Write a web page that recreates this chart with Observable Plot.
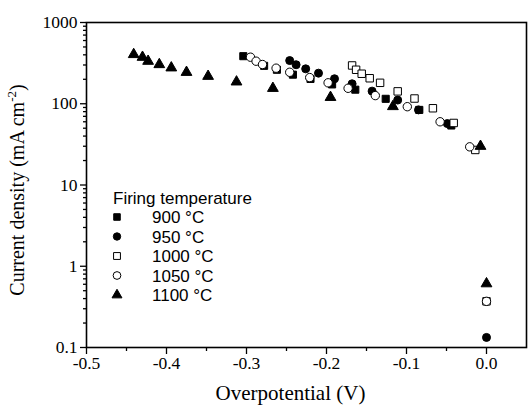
<!DOCTYPE html>
<html><head><meta charset="utf-8">
<script src="https://cdn.jsdelivr.net/npm/d3@7"></script>
<script src="https://cdn.jsdelivr.net/npm/@observablehq/plot@0.6"></script>
<style>body{margin:0;background:#fff}</style>
</head><body><div id="chart"></div>
<script>
// Series labels
const seriesLabels = ["900 °C", "950 °C", "1000 °C", "1050 °C", "1100 °C"];
const legendTitle = "Firing temperature";

// 900 °C (filled squares)
const x900 = [-0.304, -0.278, -0.262, -0.242, -0.220, -0.193, -0.164, -0.126, -0.084, -0.044];
const y900 = [385, 293, 262, 228, 202, 173, 149, 115, 84, 54];
// 950 °C (filled circles)
const x950 = [-0.246, -0.238, -0.226, -0.210, -0.190, -0.168, -0.143, -0.111, -0.085, -0.049, 0.0];
const y950 = [340, 302, 269, 238, 203, 176, 143, 111, 84, 57, 0.133];
// 1000 °C (open squares)
const x1000 = [-0.168, -0.163, -0.156, -0.146, -0.133, -0.111, -0.090, -0.067, -0.041, -0.014, 0.0];
const y1000 = [296, 262, 234, 206, 181, 142, 116, 88, 58, 27, 0.37];
// 1050 °C (open circles)
const x1050 = [-0.295, -0.288, -0.280, -0.263, -0.246, -0.221, -0.198, -0.173, -0.139, -0.099, -0.058, -0.021, 0.0];
const y1050 = [374, 334, 304, 274, 244, 210, 181, 155, 126, 92, 60, 29.5, 0.37];
// 1100 °C (filled triangles)
const x1100 = [-0.441, -0.430, -0.423, -0.409, -0.394, -0.375, -0.348, -0.3125, -0.267, -0.195, -0.117, -0.0075, 0.0];
const y1100 = [404, 374, 334, 304, 277, 244, 218, 186, 155, 120, 92.5, 30, 0.61];

// Axis ticks
const xTicks = [-0.5, -0.4, -0.3, -0.2, -0.1, 0.0];
const xMinor = [-0.45, -0.35, -0.25, -0.15, -0.05];
const yTicks = [0.1, 1, 10, 100, 1000];
const yTickLabels = ["0.1", "1", "10", "100", "1000"];
const yMinor = [0.2,0.3,0.4,0.5,0.6,0.7,0.8,0.9,2,3,4,5,6,7,8,9,20,30,40,50,60,70,80,90,200,300,400,500,600,700,800,900];

const xLabel = "Overpotential (V)";

const styles = [
  {symbol: "square", fill: "black", stroke: "black", r: 4.0},
  {symbol: "circle", fill: "black", stroke: "black", r: 4.0},
  {symbol: "square", fill: "white", stroke: "black", r: 4.2},
  {symbol: "circle", fill: "white", stroke: "black", r: 4.2},
  {symbol: "triangle", fill: "black", stroke: "black", r: 4.0}
];
const xs = [x900, x950, x1000, x1050, x1100];
const ys = [y900, y950, y1000, y1050, y1100];
const tables = xs.map((xa, i) => xa.map((x, j) => ({x, y: ys[i][j], T: seriesLabels[i]})));

const serif = "'Liberation Serif', 'Times New Roman', serif";
const sans = "'Liberation Sans', Arial, sans-serif";
const fmtX = d => Math.abs(d) < 1e-9 ? "0.0" : d.toFixed(1);

const plot = Plot.plot({
  width: 528, height: 412,
  marginLeft: 86, marginRight: 2, marginTop: 22, marginBottom: 65,
  style: {fontFamily: serif, background: "white", color: "black"},
  x: {domain: [-0.5, 0.05]},
  y: {type: "log", domain: [0.1, 1000]},
  marks: [
    Plot.axisX({ticks: xTicks, tickSize: 7, tickPadding: 2, tickFormat: fmtX, fontSize: 17.5, label: null, strokeWidth: 1.3}),
    Plot.axisX({ticks: xMinor, tickSize: 4, tickFormat: () => "", label: null, strokeWidth: 1.3}),
    Plot.axisY({ticks: yTicks, tickSize: 6, tickPadding: 3, tickFormat: d => yTickLabels[yTicks.indexOf(d)], fontSize: 17.5, label: null, strokeWidth: 1.3}),
    Plot.axisY({ticks: yMinor, tickSize: 3, tickFormat: () => "", label: null, strokeWidth: 1.3}),
    Plot.frame({strokeWidth: 1.6}),
    ...tables.map((t, i) => Plot.dot(t, {x: "x", y: "y", symbol: styles[i].symbol, r: styles[i].r, fill: styles[i].fill, stroke: styles[i].stroke, strokeWidth: 1})),
    Plot.text([xLabel], {frameAnchor: "bottom", dy: 52, dx: -16, fontSize: 21, fontFamily: serif, text: d => d})
  ]
});

const svg = d3.select(plot);
// Y axis title with superscript
const yt = svg.append("text")
  .attr("transform", "translate(24,190) rotate(-90)")
  .attr("text-anchor", "middle")
  .attr("font-family", serif).attr("font-size", 20).attr("fill", "black");
yt.append("tspan").text("Current density (mA cm");
yt.append("tspan").attr("font-size", 13).attr("dy", -8).text("-2");
yt.append("tspan").attr("dy", 8).text(")");

// Legend
const lg = svg.append("g").attr("font-family", sans).attr("font-size", 17).attr("fill", "black").attr("text-anchor", "start");
lg.append("text").attr("x", 113).attr("y", 204).text(legendTitle);
seriesLabels.forEach((lab, i) => {
  const cy = 217 + i * 19.5;
  const s = styles[i];
  const sym = s.symbol === "square" ? d3.symbolSquare : s.symbol === "circle" ? d3.symbolCircle : d3.symbolTriangle;
  lg.append("path")
    .attr("transform", `translate(117,${cy})`)
    .attr("d", d3.symbol(sym, Math.PI * s.r * s.r * 0.85)())
    .attr("fill", s.fill).attr("stroke", s.stroke).attr("stroke-width", 1);
  lg.append("text").attr("x", 152).attr("y", cy + 6).text(lab);
});

document.getElementById("chart").appendChild(plot);
</script>
</body></html>
